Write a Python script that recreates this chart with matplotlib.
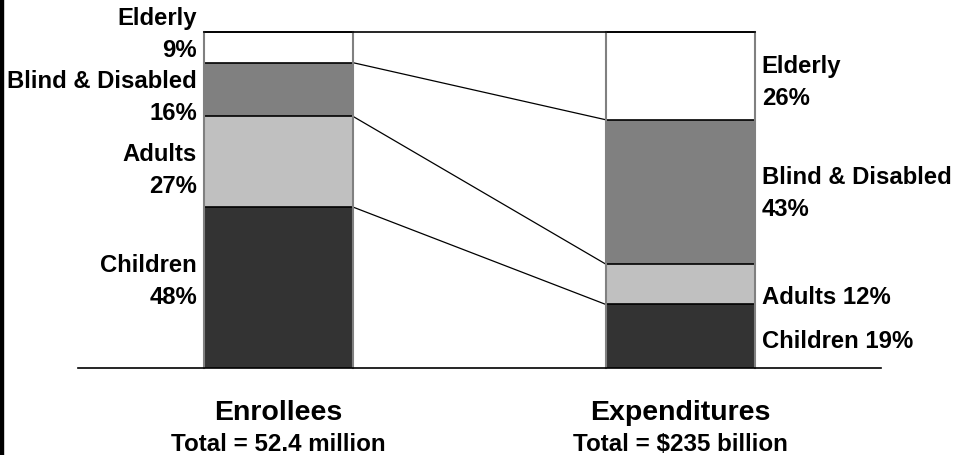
import matplotlib
matplotlib.use("Agg")
import matplotlib.pyplot as plt
from matplotlib.patches import Rectangle
import numpy as np

# data
groups = ["Elderly", "Blind & Disabled", "Adults", "Children"]
enrollees = [9, 16, 27, 48]
expenditures = [26, 43, 12, 19]
colors = ["#ffffff", "#808080", "#c0c0c0", "#333333"]
titles = ["Enrollees", "Expenditures"]
subtitles = ["Total = 52.4 million", "Total = $235 billion"]

left_labels = ["Elderly\n9%", "Blind & Disabled\n16%", "Adults\n27%", "Children\n48%"]
right_labels = ["Elderly\n26%", "Blind & Disabled\n43%", "Adults 12%", "Children 19%"]
left_label_y = [99.6, 80.8, 59.2, 26.1]
right_label_y = [85.3, 52.2, 21.3, 8.2]

plt.rcParams['font.family'] = ['Liberation Sans', 'DejaVu Sans']
plt.rcParams['font.weight'] = 'bold'

fig = plt.figure(figsize=(9.55, 4.56), dpi=100)
ax = fig.add_axes([0, 0, 1, 1])
ax.set_xlim(-0.693, 1.683)
ax.set_ylim(-25.82, 109.97)
ax.axis("off")

w = 0.371
xs = [0, 1]
stacks = []
for x, vals in zip(xs, [enrollees, expenditures]):
    # stack from bottom: reverse order (children at bottom)
    bottom = 0
    tops = []
    for v, c in zip(vals[::-1], colors[::-1]):
        ax.bar(x, v, width=w, bottom=bottom, color=c, edgecolor="none", zorder=2)
        bottom += v
        tops.append(bottom)
        ax.plot([x - w / 2, x + w / 2], [bottom, bottom], color="black", lw=1.2, zorder=3)
    for ex in (x - w / 2, x + w / 2):
        ax.plot([ex, ex], [0, 100], color="#808080", lw=1.5, zorder=3)
    stacks.append(tops)

# connector lines between bars
for a, b in zip(stacks[0][:-1], stacks[1][:-1]):
    ax.plot([w / 2, 1 - w / 2], [a, b], color="black", lw=0.9, zorder=1)
ax.plot([-w / 2, 1 + w / 2], [100, 100], color="black", lw=1.2, zorder=3)

# baseline
ax.plot([-0.5, 1.5], [0, 0], color="black", lw=1.2, zorder=4)

fs = 17.2
for lab, y in zip(left_labels, left_label_y):
    ax.text(-w / 2 - 0.017, y, lab, ha="right", va="center", fontsize=fs,
            fontweight="bold", linespacing=1.5)
for lab, y in zip(right_labels, right_label_y):
    ax.text(1 + w / 2 + 0.017, y, lab, ha="left", va="center", fontsize=fs,
            fontweight="bold", linespacing=1.5)

for x, t, s in zip(xs, titles, subtitles):
    ax.text(x, -12.9, t, ha="center", va="center", fontsize=20.5, fontweight="bold")
    ax.text(x, -22.5, s, ha="center", va="center", fontsize=17.4, fontweight="bold")

fig.add_artist(Rectangle((0, 0), 2.5 / 955, 1, transform=fig.transFigure,
                         color="black", zorder=10))

fig.savefig("out.png", dpi=100)
